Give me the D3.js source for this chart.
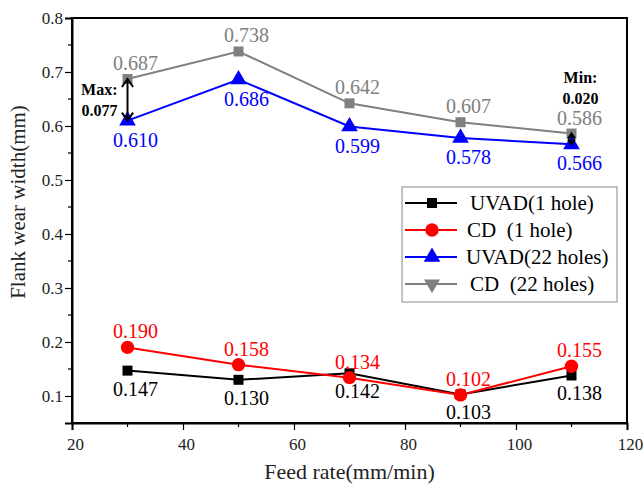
<!DOCTYPE html>
<html>
<head>
<meta charset="utf-8">
<script src="https://cdn.jsdelivr.net/npm/d3@7"></script>
<style>
  body { margin: 0; background: #fff; }
  svg text { font-family: "Liberation Serif", "Tinos", "DejaVu Serif", serif !important; }
</style>
</head>
<body>
<div id="chart"></div>
<script>
const feedRates = [30, 50, 70, 90, 110];
const uvad1 = [0.147, 0.130, 0.142, 0.103, 0.138];
const cd1 = [0.190, 0.158, 0.134, 0.102, 0.155];
const uvad22 = [0.610, 0.686, 0.599, 0.578, 0.566];
const cd22 = [0.687, 0.738, 0.642, 0.607, 0.586];
const xTicks = [20, 40, 60, 80, 100, 120];
const yTicks = [0.1, 0.2, 0.3, 0.4, 0.5, 0.6, 0.7, 0.8];

const W = 643, H = 488;
const margin = { top: 18, right: 16, bottom: 65, left: 72 };
const width = W - margin.left - margin.right;
const height = H - margin.top - margin.bottom;
const serif = '"Liberation Serif", "Tinos", "DejaVu Serif", serif';

const svg = d3.select('#chart').append('svg')
  .attr('width', W).attr('height', H)
  .style('font-family', serif);
const g = svg.append('g')
  .attr('transform', `translate(${margin.left},${margin.top})`);

const x = d3.scaleLinear().domain([20, 120]).range([0, width]);
const y = d3.scaleLinear().domain([0.05, 0.8]).range([height, 0]);

// minor ticks
g.append('g').selectAll('line').data(d3.range(30, 120, 20)).enter().append('line')
  .attr('x1', d => x(d)).attr('x2', d => x(d))
  .attr('y1', height).attr('y2', height + 4)
  .attr('stroke', '#000').attr('stroke-width', 1.2);
g.append('g').selectAll('line').data(d3.range(0.15, 0.8, 0.1)).enter().append('line')
  .attr('x1', 0).attr('x2', -4)
  .attr('y1', d => y(d)).attr('y2', d => y(d))
  .attr('stroke', '#000').attr('stroke-width', 1.2);

const xAxis = g.append('g')
  .attr('transform', `translate(0,${height})`)
  .call(d3.axisBottom(x).tickValues(xTicks).tickSize(7).tickPadding(8).tickFormat(d3.format('d')));
const yAxis = g.append('g')
  .call(d3.axisLeft(y).tickValues(yTicks).tickSize(7).tickPadding(2).tickFormat(d3.format('.1f')));
[xAxis, yAxis].forEach(a => {
  a.attr('font-family', null);
  a.selectAll('text').attr('font-size', 17).attr('fill', '#222')
    .style('font-family', serif);
  a.selectAll('line').attr('stroke-width', 1.2);
  a.select('.domain').attr('stroke-width', 2);
});
xAxis.selectAll('text').attr('dx', 3);
yAxis.selectAll('text').attr('dy', '0.35em');

// frame
g.append('rect').attr('width', width).attr('height', height)
  .attr('fill', 'none').attr('stroke', '#000').attr('stroke-width', 2);

svg.append('text').attr('x', margin.left + width / 2).attr('y', 479)
  .attr('text-anchor', 'middle').attr('font-size', 22).attr('fill', '#222')
  .text('Feed rate(mm/min)');
svg.append('text')
  .attr('transform', 'translate(25,202) rotate(-90)')
  .attr('text-anchor', 'middle').attr('font-size', 21).attr('fill', '#222')
  .text('Flank wear width(mm)');

const series = [
  { name: 'UVAD(1 hole)', values: uvad1, color: '#000', marker: 'square', legend: 'square', labelDy: 25 },
  { name: 'CD  (1 hole)', values: cd1, color: '#ff0000', marker: 'circle', legend: 'circle', labelDy: -9 },
  { name: 'UVAD(22 holes)', values: uvad22, color: '#0000ff', marker: 'triangle', legend: 'triangle', labelDy: 26 },
  { name: 'CD  (22 holes)', values: cd22, color: '#808080', marker: 'square', legend: 'triangleDown', labelDy: -9 }
];

const symbols = {
  square: d3.symbol().type(d3.symbolSquare).size(100),
  circle: d3.symbol().type(d3.symbolCircle).size(140),
  triangle: d3.symbol().type(d3.symbolTriangle).size(120),
  triangleDown: d3.symbol().type(d3.symbolTriangle).size(110)
};

const line = d3.line().x(d => x(d[0])).y(d => y(d[1]));

// draw 22-holes first, then 1-hole black then red on top
const order = [3, 2, 0, 1];
order.forEach(i => {
  const s = series[i];
  const pts = feedRates.map((f, j) => [f, s.values[j]]);
  g.append('path').datum(pts).attr('d', line)
    .attr('fill', 'none').attr('stroke', s.color).attr('stroke-width', 2);
  g.append('g').selectAll('path').data(pts).enter().append('path')
    .attr('d', symbols[s.marker])
    .attr('transform', d => `translate(${x(d[0])},${y(d[1])})`)
    .attr('fill', s.color);
});

order.forEach(i => {
  const s = series[i];
  g.append('g').selectAll('text').data(feedRates).enter().append('text')
    .attr('x', f => x(f) + 8)
    .attr('y', (f, j) => y(s.values[j]) + (i === 2 && j === 1 ? 26 : s.labelDy))
    .attr('text-anchor', 'middle').attr('font-size', 20).attr('fill', s.color)
    .text((f, j) => d3.format('.3f')(s.values[j]));
});

// difference annotations
function doubleArrow(xv, v1, v2, head) {
  const xa = x(xv), ya = y(v1), yb = y(v2);
  g.append('line').attr('x1', xa).attr('x2', xa).attr('y1', ya + 1).attr('y2', yb - 1)
    .attr('stroke', '#000').attr('stroke-width', 2);
  [[ya, 1], [yb, -1]].forEach(([yy, dir]) => {
    g.append('path')
      .attr('d', `M${xa - head * 0.7},${yy + dir * head} L${xa},${yy} L${xa + head * 0.7},${yy + dir * head}`)
      .attr('fill', 'none').attr('stroke', '#000').attr('stroke-width', 2);
  });
}
doubleArrow(30, cd22[0], uvad22[0], 8);
doubleArrow(110, cd22[4], uvad22[4], 5);

const maxDiff = d3.format('.3f')(cd22[0] - uvad22[0]);
const minDiff = d3.format('.3f')(cd22[4] - uvad22[4]);
g.append('text').attr('x', x(30) - 10).attr('y', 95 - margin.top).attr('text-anchor', 'end')
  .attr('font-size', 16).attr('font-weight', 'bold').text('Max:');
g.append('text').attr('x', x(30) - 10).attr('y', 116 - margin.top).attr('text-anchor', 'end')
  .attr('font-size', 16).attr('font-weight', 'bold').text(maxDiff);
g.append('text').attr('x', x(110) + 9).attr('y', 83 - margin.top).attr('text-anchor', 'middle')
  .attr('font-size', 16).attr('font-weight', 'bold').text('Min:');
g.append('text').attr('x', x(110) + 9).attr('y', 104 - margin.top).attr('text-anchor', 'middle')
  .attr('font-size', 16).attr('font-weight', 'bold').text(minDiff);

// legend
const lg = svg.append('g').attr('transform', 'translate(402,187)');
lg.append('rect').attr('width', 215).attr('height', 115)
  .attr('fill', '#fff').attr('stroke', '#888').attr('stroke-width', 1);
const textX = [68, 65, 64, 68];
series.forEach((s, i) => {
  const yy = 16 + i * 27;
  lg.append('line').attr('x1', 3).attr('x2', 55).attr('y1', yy).attr('y2', yy)
    .attr('stroke', s.color).attr('stroke-width', 2);
  lg.append('path').attr('d', symbols[s.legend])
    .attr('transform', `translate(30,${yy})` + (s.legend === 'triangleDown' ? ' rotate(180)' : ''))
    .attr('fill', s.color);
  lg.append('text').attr('x', textX[i]).attr('y', yy + 7)
    .attr('font-size', 21).attr('fill', '#000')
    .style('white-space', 'pre')
    .text(s.name);
});
</script>
</body>
</html>
